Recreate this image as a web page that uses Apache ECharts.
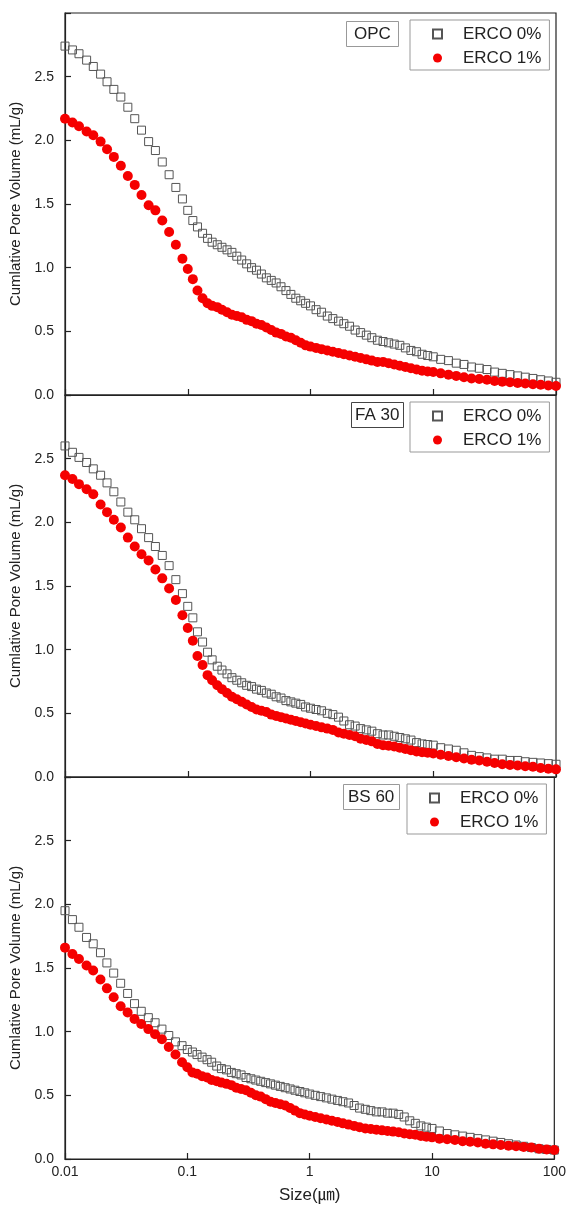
<!DOCTYPE html>
<html style="height:100%;">
<head>
    <meta charset="utf-8">
    <script src="https://cdn.jsdelivr.net/npm/echarts@6/dist/echarts.min.js"></script>
</head>
<body style="height:100%;margin:0;background:#fff;">
    <div id="main" style="width:569px;height:1211px;"></div>
<script>
    // pore size (um), shared by all curves
    var sizes = [
        0.0100, 0.0115, 0.0130, 0.0150, 0.0170, 0.0195, 0.0220, 0.0250, 0.0285, 0.0325,
        0.0370, 0.0420, 0.0480, 0.0545, 0.0620, 0.0705, 0.0800, 0.0905,
        0.100, 0.110, 0.120, 0.132, 0.145, 0.158, 0.174, 0.190, 0.209, 0.229,
        0.251, 0.275, 0.302, 0.331, 0.363, 0.398, 0.437, 0.479, 0.525, 0.575,
        0.631, 0.692, 0.759, 0.832, 0.912,
        1.00, 1.11, 1.23, 1.37, 1.52, 1.69, 1.87, 2.08, 2.31, 2.56,
        2.85, 3.16, 3.51, 3.90, 4.33, 4.81, 5.34, 5.93, 6.58, 7.31, 8.11, 9.00,
        10.0, 11.5, 13.3, 15.4, 17.8, 20.5, 23.7, 27.4, 31.6, 36.5,
        42.2, 48.7, 56.2, 64.9, 75.0, 86.6, 100
    ];
    // cumulative pore volume (mL/g)
    var opc0 = [
        2.74, 2.71, 2.68, 2.63, 2.58, 2.52, 2.46, 2.40, 2.34, 2.26,
        2.17, 2.08, 1.99, 1.92, 1.83, 1.73, 1.63, 1.54,
        1.45, 1.37, 1.32, 1.27, 1.23, 1.20, 1.18, 1.16, 1.14, 1.12,
        1.09, 1.06, 1.03, 1.00, 0.98, 0.95, 0.92, 0.90, 0.88, 0.85,
        0.82, 0.79, 0.76, 0.74, 0.72,
        0.70, 0.67, 0.65, 0.62, 0.60, 0.58, 0.56, 0.54, 0.51, 0.49,
        0.47, 0.45, 0.43, 0.42, 0.41, 0.40, 0.39, 0.37, 0.35, 0.34, 0.32, 0.31,
        0.30, 0.28, 0.27, 0.25, 0.24, 0.22, 0.21, 0.20, 0.18, 0.17,
        0.16, 0.15, 0.14, 0.13, 0.12, 0.11, 0.10
    ];
    var opc1 = [
        2.17, 2.14, 2.11, 2.07, 2.04, 1.99, 1.93, 1.87, 1.80, 1.72,
        1.65, 1.57, 1.49, 1.45, 1.37, 1.28, 1.18, 1.07,
        0.99, 0.91, 0.82, 0.76, 0.72, 0.70, 0.69, 0.67, 0.65, 0.63,
        0.62, 0.61, 0.59, 0.58, 0.56, 0.55, 0.53, 0.51, 0.49, 0.48,
        0.46, 0.45, 0.43, 0.41, 0.39,
        0.38, 0.37, 0.36, 0.35, 0.34, 0.33, 0.32, 0.31, 0.30, 0.29,
        0.28, 0.27, 0.26, 0.26, 0.25, 0.24, 0.23, 0.22, 0.21, 0.20, 0.19, 0.185,
        0.18, 0.17, 0.16, 0.15, 0.14, 0.13, 0.125, 0.12, 0.11, 0.105,
        0.10, 0.095, 0.09, 0.085, 0.08, 0.075, 0.07
    ];
    var fa0 = [
        2.60, 2.55, 2.51, 2.47, 2.42, 2.37, 2.31, 2.24, 2.16, 2.08,
        2.02, 1.95, 1.88, 1.81, 1.74, 1.66, 1.55, 1.44,
        1.34, 1.25, 1.14, 1.06, 0.98, 0.92, 0.87, 0.84, 0.81, 0.78,
        0.76, 0.74, 0.72, 0.71, 0.69, 0.68, 0.66, 0.65, 0.63, 0.62,
        0.60, 0.59, 0.58, 0.57, 0.55,
        0.54, 0.53, 0.52, 0.50, 0.49, 0.47, 0.44, 0.41, 0.40, 0.38,
        0.37, 0.36, 0.34, 0.33, 0.33, 0.32, 0.31, 0.30, 0.29, 0.27, 0.26, 0.255,
        0.25, 0.23, 0.22, 0.21, 0.19, 0.17, 0.16, 0.15, 0.14, 0.14,
        0.13, 0.13, 0.12, 0.115, 0.11, 0.105, 0.10
    ];
    var fa1 = [
        2.37, 2.34, 2.30, 2.26, 2.22, 2.14, 2.08, 2.02, 1.96, 1.88,
        1.81, 1.75, 1.70, 1.63, 1.56, 1.48, 1.39, 1.27,
        1.17, 1.07, 0.95, 0.88, 0.80, 0.76, 0.72, 0.69, 0.66, 0.63,
        0.61, 0.59, 0.57, 0.55, 0.53, 0.52, 0.51, 0.49, 0.48, 0.47,
        0.46, 0.45, 0.44, 0.43, 0.42,
        0.41, 0.40, 0.39, 0.38, 0.37, 0.35, 0.34, 0.33, 0.32, 0.30,
        0.29, 0.28, 0.26, 0.25, 0.245, 0.24, 0.23, 0.22, 0.21, 0.20, 0.195, 0.19,
        0.185, 0.175, 0.165, 0.155, 0.145, 0.135, 0.13, 0.12, 0.11, 0.10,
        0.095, 0.09, 0.085, 0.08, 0.07, 0.065, 0.06
    ];
    var bs0 = [
        1.95, 1.88, 1.82, 1.74, 1.69, 1.62, 1.54, 1.46, 1.38, 1.30,
        1.22, 1.16, 1.11, 1.07, 1.02, 0.97, 0.92, 0.89,
        0.86, 0.84, 0.82, 0.80, 0.78, 0.76, 0.73, 0.71, 0.70, 0.68,
        0.67, 0.66, 0.64, 0.63, 0.62, 0.61, 0.60, 0.59, 0.58, 0.57,
        0.56, 0.55, 0.54, 0.53, 0.52,
        0.51, 0.50, 0.49, 0.48, 0.47, 0.46, 0.45, 0.44, 0.42, 0.40,
        0.39, 0.38, 0.37, 0.37, 0.36, 0.36, 0.35, 0.33, 0.30, 0.28, 0.26, 0.25,
        0.24, 0.22, 0.20, 0.19, 0.18, 0.17, 0.16, 0.15, 0.14, 0.13,
        0.12, 0.11, 0.10, 0.09, 0.08, 0.075, 0.07
    ];
    var bs1 = [
        1.66, 1.61, 1.57, 1.52, 1.48, 1.41, 1.34, 1.27, 1.20, 1.15,
        1.10, 1.06, 1.02, 0.98, 0.94, 0.88, 0.82, 0.76,
        0.72, 0.68, 0.67, 0.65, 0.64, 0.62, 0.61, 0.60, 0.59, 0.58,
        0.56, 0.55, 0.54, 0.52, 0.50, 0.49, 0.47, 0.45, 0.44, 0.43,
        0.42, 0.40, 0.38, 0.36, 0.35,
        0.34, 0.33, 0.32, 0.31, 0.30, 0.29, 0.28, 0.27, 0.26, 0.25,
        0.24, 0.235, 0.23, 0.225, 0.22, 0.215, 0.21, 0.20, 0.195, 0.19, 0.18, 0.175,
        0.17, 0.16, 0.155, 0.15, 0.14, 0.135, 0.13, 0.12, 0.115, 0.11,
        0.105, 0.10, 0.095, 0.09, 0.08, 0.075, 0.07
    ];
    var panelNames = ['OPC', 'FA 30', 'BS 60'];
    var panelData = [[opc0, opc1], [fa0, fa1], [bs0, bs1]];
    var seriesNames = ['ERCO 0%', 'ERCO 1%'];
    var yTicks = [0, 0.5, 1.0, 1.5, 2.0, 2.5];

    var font = '"Liberation Sans", Arial, "Noto Sans CJK KR", sans-serif';
    var gridTops = [13, 395, 777];
    var tagPos = [[346, 21, [3, 8, 3, 8], '#999'], [351, 402, [3, 4, 3, 4], '#444'], [343, 784, [3, 5, 3, 5], '#999']];
    var legendPos = [[410, 20], [410, 402], [407, 784]];

    function pairs(arr) {
        return sizes.map(function (s, i) { return [s, arr[i]]; });
    }

    var grids = [], xAxes = [], yAxes = [], series = [], titles = [], legends = [];
    for (var p = 0; p < 3; p++) {
        grids.push({
            left: 65, right: 13, top: gridTops[p], height: 382,
            show: true, borderColor: '#222', borderWidth: 1.2, backgroundColor: 'transparent'
        });
        var last = p === 2;
        xAxes.push({
            type: 'log', logBase: 10, min: 0.01, max: 100, gridIndex: p,
            axisLine: { show: true, lineStyle: { color: '#222', width: 1.2 } },
            axisTick: { show: true, inside: true, length: 6, lineStyle: { color: '#222', width: 1.2 } },
            minorTick: { show: false },
            splitLine: { show: false },
            axisLabel: {
                show: last, color: '#222', fontSize: 14, fontFamily: font, margin: 6,
                formatter: function (v) { return String(+v.toPrecision(3)); }
            },
            name: last ? 'Size(㎛)' : '',
            nameLocation: 'middle', nameGap: 28,
            nameTextStyle: { fontSize: 17, color: '#222', fontFamily: font }
        });
        yAxes.push({
            type: 'value', min: 0, max: 3, interval: 0.5, gridIndex: p,
            axisLine: { show: true, lineStyle: { color: '#222', width: 1.2 } },
            axisTick: { show: true, inside: true, length: 6, lineStyle: { color: '#222', width: 1.2 } },
            splitLine: { show: false },
            axisLabel: {
                color: '#222', fontSize: 14, fontFamily: font, margin: 11,
                formatter: function (v) { return yTicks.indexOf(v) >= 0 ? v.toFixed(1) : ''; }
            },
            name: 'Cumlative Pore Volume (mL/g)',
            nameLocation: 'middle', nameGap: 40,
            nameTextStyle: { fontSize: 15, color: '#222', fontFamily: font }
        });
        series.push({
            name: seriesNames[0], type: 'scatter', xAxisIndex: p, yAxisIndex: p,
            symbol: 'rect', symbolSize: 8,
            itemStyle: { color: 'rgba(255,255,255,0)', borderColor: '#555', borderWidth: 1, opacity: 1 },
            data: pairs(panelData[p][0])
        });
        series.push({
            name: seriesNames[1], type: 'scatter', xAxisIndex: p, yAxisIndex: p,
            symbol: 'circle', symbolSize: 10,
            itemStyle: { color: '#f50000', opacity: 1 },
            data: pairs(panelData[p][1])
        });
        titles.push({
            text: panelNames[p], left: tagPos[p][0], top: tagPos[p][1], padding: tagPos[p][2],
            borderColor: tagPos[p][3], borderWidth: 1,
            textStyle: { fontSize: 17, fontWeight: 'normal', color: '#222', fontFamily: font, lineHeight: 20 }
        });
        legends.push({
            data: seriesNames, orient: 'vertical',
            left: legendPos[p][0], top: legendPos[p][1],
            borderColor: '#999', borderWidth: 1, padding: [4, 8, 2, 22],
            itemWidth: 9, itemHeight: 9, itemGap: 4,
            textStyle: { fontSize: 17, color: '#222', fontFamily: font, lineHeight: 20, padding: [0, 0, 0, 16] }
        });
    }

    var chart = echarts.init(document.getElementById('main'));
    chart.setOption({
        backgroundColor: '#fff',
        animation: false,
        title: titles,
        legend: legends,
        grid: grids,
        xAxis: xAxes,
        yAxis: yAxes,
        series: series
    });
</script>
</body>
</html>
